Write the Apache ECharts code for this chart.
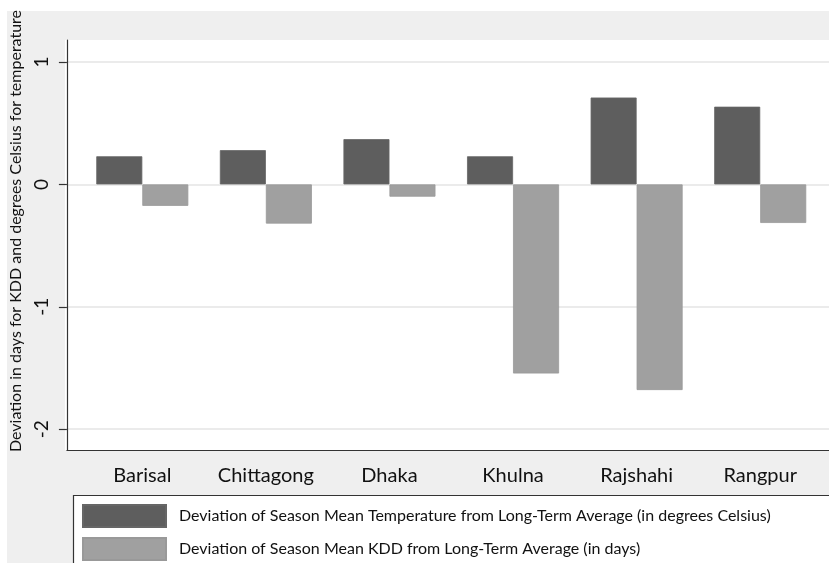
<!DOCTYPE html>
<html>
<head>
<meta charset="utf-8">
<script src="https://cdn.jsdelivr.net/npm/echarts@6/dist/echarts.min.js"></script>
<style>
  html, body { margin: 0; padding: 0; background: #ffffff; }
  #chart { width: 829px; height: 563px; }
</style>
</head>
<body>
<div id="chart"></div>
<script>
// Divisions of Bangladesh
const divisions = ['Barisal', 'Chittagong', 'Dhaka', 'Khulna', 'Rajshahi', 'Rangpur'];
// Deviation of season mean temperature from long-term average (degrees Celsius)
const tempDeviation = [0.23, 0.28, 0.37, 0.23, 0.71, 0.635];
// Deviation of season mean KDD from long-term average (days)
const kddDeviation = [-0.175, -0.32, -0.10, -1.545, -1.68, -0.315];
// Y-axis tick values
const yTicks = [-2, -1, 0, 1];

const tempName = 'Deviation of Season Mean Temperature from Long-Term Average (in degrees Celsius)';
const kddName = 'Deviation of Season Mean KDD from Long-Term Average (in days)';

const yMin = -2.17, yMax = 1.18;
const FONT = 'Lato';

const chart = echarts.init(document.getElementById('chart'), null, { renderer: 'canvas' });

chart.setOption({
  animation: false,
  backgroundColor: '#ffffff',
  textStyle: { fontFamily: FONT },
  graphic: [
    // outer panel
    { type: 'rect', z: -10, silent: true, shape: { x: 7, y: 11, width: 830, height: 560 }, style: { fill: '#efefef' } },
    // plot region
    { type: 'rect', z: -9, silent: true, shape: { x: 65, y: 40, width: 770, height: 410 }, style: { fill: '#ffffff' } },
    // legend frame
    { type: 'rect', z: -8, silent: true, shape: { x: 73.5, y: 495.5, width: 800, height: 100 }, style: { fill: '#ffffff', stroke: '#333333', lineWidth: 1.2 } }
  ],
  legend: {
    orient: 'vertical',
    left: 82,
    top: 504,
    itemWidth: 83,
    itemHeight: 22,
    itemGap: 9,
    padding: 0,
    icon: 'rect',
    z: 5,
    textStyle: { fontFamily: FONT, fontSize: 16, color: '#111111', padding: [0, 0, 0, 8] },
    data: [tempName, kddName]
  },
  grid: [
    // frame grid: gridlines, y-axis ticks and labels
    { left: 65, right: 0, top: 40, bottom: 113, containLabel: false },
    // bar grid
    { left: 80.5, right: 7, top: 40, bottom: 113, containLabel: false }
  ],
  xAxis: [
    {
      gridIndex: 0, type: 'category', data: divisions,
      axisLine: { show: true, onZero: false, lineStyle: { color: '#333333', width: 1.2 } },
      axisTick: { show: false }, axisLabel: { show: false }, splitLine: { show: false }
    },
    {
      gridIndex: 1, type: 'category', data: divisions,
      axisLine: { show: false, onZero: false }, axisTick: { show: false },
      axisLabel: { show: true, margin: 16, fontFamily: FONT, fontSize: 20, color: '#111111', interval: 0 },
      splitLine: { show: false }
    }
  ],
  yAxis: [
    {
      gridIndex: 0, type: 'value', min: yMin, max: yMax,
      name: 'Deviation in days for KDD and degrees Celsius for temperature',
      nameLocation: 'middle', nameGap: 42,
      nameTextStyle: { fontFamily: FONT, fontSize: 16, color: '#111111', padding: [0, 0, 0, 28] },
      axisLine: { show: true, lineStyle: { color: '#333333', width: 1.2 } },
      axisTick: { show: true, length: 8, customValues: yTicks, lineStyle: { color: '#333333', width: 1.2 } },
      axisLabel: { show: true, customValues: yTicks, rotate: 90, margin: 16, fontFamily: FONT, fontSize: 19, color: '#111111' },
      splitLine: { show: true, lineStyle: { color: '#e4e4e4', width: 1.5 } }
    },
    {
      gridIndex: 1, type: 'value', min: yMin, max: yMax,
      axisLine: { show: false }, axisTick: { show: false }, axisLabel: { show: false }, splitLine: { show: false }
    }
  ],
  series: [
    {
      name: tempName, type: 'bar', xAxisIndex: 1, yAxisIndex: 1,
      data: tempDeviation, barWidth: 46, barGap: '0%',
      itemStyle: { color: '#5e5e5e', borderColor: '#666666', borderWidth: 0.8 }
    },
    {
      name: kddName, type: 'bar', xAxisIndex: 1, yAxisIndex: 1,
      data: kddDeviation, barWidth: 46, barGap: '0%',
      itemStyle: { color: '#a0a0a0', borderColor: '#999999', borderWidth: 0.8 }
    }
  ]
});
</script>
</body>
</html>
